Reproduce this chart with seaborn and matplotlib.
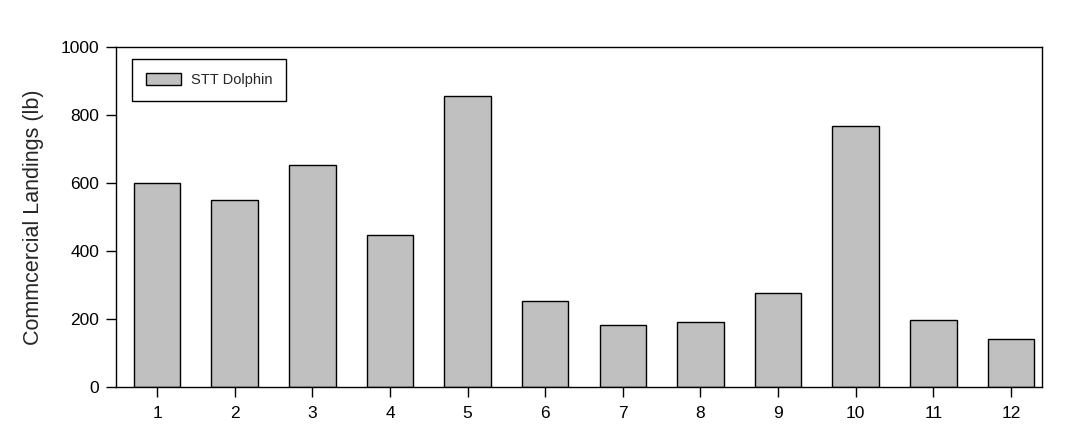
import matplotlib
matplotlib.use("Agg")
import matplotlib.pyplot as plt
import seaborn as sns
import pandas as pd

# monthly landings
months = [1, 2, 3, 4, 5, 6, 7, 8, 9, 10, 11, 12]
landings = [600, 550, 652, 446, 855, 252, 182, 190, 276, 768, 196, 140]
series_name = "STT Dolphin"

df = pd.DataFrame({"Month": months, "Landings": landings})

sns.set_style("ticks")
plt.rcParams["font.family"] = ["Liberation Sans", "DejaVu Sans"]

fig = plt.figure(figsize=(10.83, 4.46), dpi=100)
ax = fig.add_axes([0.1071, 0.1323, 0.855, 0.7623])

sns.barplot(data=df, x="Month", y="Landings", color="#c0c0c0", saturation=1,
            width=0.6, edgecolor="black", linewidth=1.0, label=series_name, ax=ax)

ax.set_xlim(-0.53, 11.4)
ax.set_ylim(0, 1000)
ax.set_yticks([0, 200, 400, 600, 800, 1000])
ax.set_xlabel("")
ax.set_ylabel("Commcercial Landings (lb)", fontsize=15.5, labelpad=12)
ax.tick_params(axis="both", direction="out", length=7, width=1, labelsize=12.5,
               color="black", labelcolor="black", pad=5)
ax.tick_params(axis="x", pad=7)
for s in ax.spines.values():
    s.set_visible(True)
    s.set_color("black")
    s.set_linewidth(1)

leg = ax.legend(loc="upper left", bbox_to_anchor=(0.017, 0.965), fontsize=10.5,
                frameon=True, fancybox=False, edgecolor="black", framealpha=1,
                handlelength=2.4, handleheight=0.85, handletextpad=0.7,
                borderpad=0.95, borderaxespad=0)
leg.get_frame().set_linewidth(1)

fig.savefig("out.png", dpi=100)
